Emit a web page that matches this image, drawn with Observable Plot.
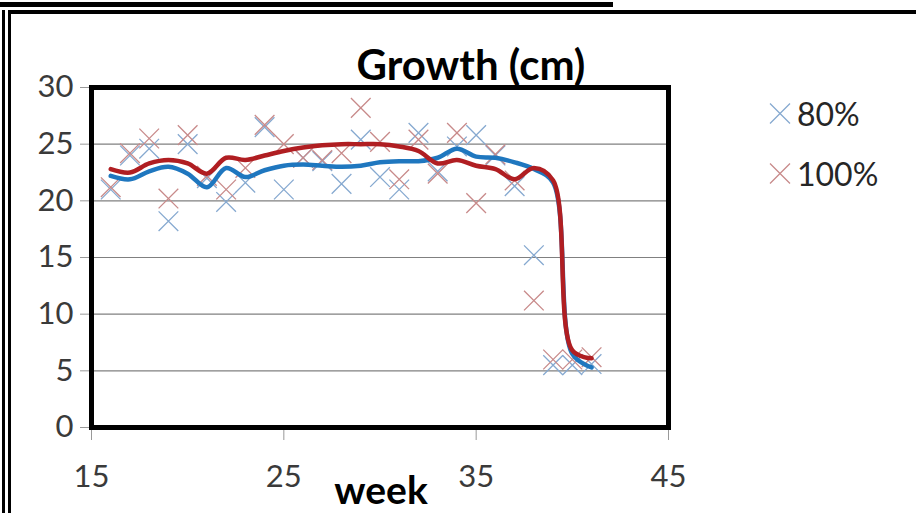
<!DOCTYPE html>
<html>
<head>
<meta charset="utf-8">
<script src="https://cdn.jsdelivr.net/npm/d3@7"></script>
<script src="https://cdn.jsdelivr.net/npm/@observablehq/plot@0.6"></script>
<style>
  body { margin: 0; background: #fff; }
  #wrap { position: relative; width: 916px; height: 513px; overflow: hidden; background: #fff; font-family: Lato, "Open Sans", sans-serif; }
  .deco { position: absolute; background: #000; }
  #chart { position: absolute; left: 0; top: 0; }
  .lbl { position: absolute; white-space: nowrap; }
  #title { left: 471px; top: 64px; transform: translate(-50%, -50%); font-size: 42px; font-weight: 700; color: #000; }
  #xlabel { left: 381px; top: 489px; transform: translate(-50%, -50%); font-size: 39px; font-weight: 700; color: #000; }
  .leg { position: absolute; left: 768px; display: flex; align-items: center; font-size: 32px; color: #262626; transform: translateY(-50%); }
  .leg svg { margin-right: 5px; }
</style>
</head>
<body>
<div id="wrap">
  <div class="deco" style="left:0;top:2px;width:613px;height:5px"></div>
  <div class="deco" style="left:8px;top:10px;width:908px;height:4px"></div>
  <div class="deco" style="left:2px;top:10px;width:3px;height:503px"></div>
  <div class="deco" style="left:8px;top:10px;width:3px;height:503px"></div>
  <div id="chart"></div>
  <div id="title" class="lbl">Growth (cm)</div>
  <div id="xlabel" class="lbl">week</div>
  <div class="leg" style="top:113px"><svg width="24" height="24"><path d="M2,2L22,22M2,22L22,2" stroke="#86a9d0" stroke-width="1.3" fill="none"/></svg>80%</div>
  <div class="leg" style="top:173px"><svg width="24" height="24"><path d="M2,2L22,22M2,22L22,2" stroke="#c88a8a" stroke-width="1.3" fill="none"/></svg>100%</div>
</div>
<script>
const weeks = [16,17,18,19,20,21,22,23,24,25,26,27,28,29,30,31,32,33,34,35,36,37,38,39,40,41];
const pts80  = [21.0,24.0,24.6,18.2,25.0,22.0,19.9,21.6,26.5,21.0,23.8,23.5,21.5,25.4,22.1,21.0,26.0,22.6,24.8,25.8,24.0,21.3,15.2,5.5,5.5,5.6];
const pts100 = [21.2,24.2,25.5,20.2,25.8,22.2,21.0,22.9,26.7,25.0,23.8,23.6,24.2,28.2,25.2,21.9,25.4,22.4,26.0,19.8,24.1,21.8,11.2,6.0,6.0,6.2];
const trend80  = [22.2,21.9,22.6,23.0,22.4,21.2,22.9,22.1,22.7,23.1,23.2,23.1,23.0,23.1,23.4,23.5,23.5,23.8,24.6,23.9,23.8,23.4,22.8,21.6,6.5,5.3];
const trend100 = [22.8,22.5,23.3,23.6,23.3,22.4,23.8,23.6,24.0,24.4,24.7,24.9,25.0,25.0,25.0,24.8,24.4,23.3,23.6,23.1,22.8,21.9,22.9,21.8,6.8,6.1];
const yTicks = [0,5,10,15,20,25,30];
const gridTicks = [5,10,15,20,25];
const xTicks = [15,25,35,45];

const rows = (ys) => weeks.map((w, i) => ({week: w, v: ys[i]}));

const chart = Plot.plot({
  width: 916,
  height: 513,
  marginLeft: 91,
  marginRight: 248,
  marginTop: 87,
  marginBottom: 86,
  style: {fontFamily: "Lato, 'Open Sans', sans-serif", fontSize: "31px", color: "#333", background: "transparent", overflow: "visible"},
  x: {domain: [15, 45]},
  y: {domain: [0, 30]},
  marks: [
    Plot.gridY(gridTicks, {stroke: "#808080", strokeOpacity: 1, strokeWidth: 1.2}),
    Plot.axisY(yTicks, {tickSize: 11, tickPadding: 7, stroke: "#999", fill: "#3a3a3a", fontSize: 31, label: null}),
    Plot.axisX(xTicks, {tickSize: 13, tickPadding: 24, stroke: "#999", fill: "#3a3a3a", fontSize: 31, label: null}),
    Plot.dot(rows(pts80), {x: "week", y: "v", symbol: "times", r: 9, stroke: "#86a9d0", strokeWidth: 1.3}),
    Plot.dot(rows(pts100), {x: "week", y: "v", symbol: "times", r: 9, stroke: "#c88a8a", strokeWidth: 1.3}),
    Plot.line(rows(trend80), {x: "week", y: "v", curve: "catmull-rom", stroke: "#1f77bf", strokeWidth: 4.5}),
    Plot.line(rows(trend100), {x: "week", y: "v", curve: "catmull-rom", stroke: "#b01e22", strokeWidth: 4.5}),
    Plot.frame({stroke: "#000", strokeWidth: 5})
  ]
});
document.getElementById("chart").appendChild(chart);
</script>
</body>
</html>
